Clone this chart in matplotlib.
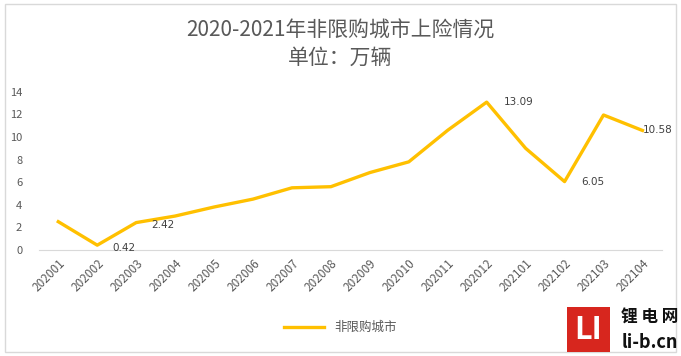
import numpy as np
import matplotlib.pyplot as plt
from matplotlib.patches import Rectangle

plt.rcParams['font.family'] = ['Noto Sans CJK SC', 'DejaVu Sans']

months = ['202001', '202002', '202003', '202004', '202005', '202006', '202007', '202008',
          '202009', '202010', '202011', '202012', '202101', '202102', '202103', '202104']
vals = [2.5, 0.42, 2.42, 3.0, 3.8, 4.5, 5.5, 5.6, 6.85, 7.8, 10.6, 13.09, 9.0, 6.05, 11.95, 10.58]
labeled = {1: '0.42', 2: '2.42', 11: '13.09', 13: '6.05', 15: '10.58'}
offsets = {1: (11, -2), 2: (11, -2), 11: (12, 0), 13: (12, 0), 15: (0, 0)}

fig = plt.figure(figsize=(6.81, 3.56), dpi=100)
ax = fig.add_axes([0.057, 0.298, 0.915, 0.444])
x = np.arange(len(months))
ax.plot(x, vals, color='#FFC000', lw=2.4, label='非限购城市')

for i, t in labeled.items():
    ax.annotate(t, (x[i], vals[i]), xytext=offsets[i], textcoords='offset points',
                fontsize=7.5, color='#404040', va='center', ha='left', family='DejaVu Sans')

ax.set_xlim(-0.5, 15.5)
ax.set_ylim(0, 14)
ax.set_yticks(range(0, 15, 2))
ax.set_xticks(x)
ax.set_xticklabels(months, rotation=45, ha='right', rotation_mode='anchor', fontsize=8.5, color='#595959')
ax.tick_params(axis='y', length=0, labelsize=8, labelcolor='#595959', pad=12)
ax.tick_params(axis='x', length=0, pad=5)
for s in ['top', 'right', 'left']:
    ax.spines[s].set_visible(False)
ax.spines['bottom'].set_color('#d9d9d9')

fig.text(0.5, 0.915, '2020-2021年非限购城市上险情况', ha='center', va='center', fontsize=15, color='#595959')
fig.text(0.5, 0.838, '单位：万辆', ha='center', va='center', fontsize=15, color='#595959')

fig.legend(loc='center', bbox_to_anchor=(0.5, 0.08), frameon=False, fontsize=9,
           labelcolor='#595959', handlelength=3.2)

# frame
fig.patches.append(Rectangle((0.007, 0.01), 0.985, 0.98, transform=fig.transFigure,
                             fill=False, edgecolor='#d9d9d9', lw=1))
# logo
fig.patches.append(Rectangle((567 / 681, 4 / 356), 43 / 681, 45 / 356, transform=fig.transFigure,
                             facecolor='#d7261e', edgecolor='none'))
fig.text(588 / 681, 26 / 356, 'LI', ha='center', va='center', fontsize=22, color='white', fontweight='bold')
fig.text(650 / 681, 38 / 356, '锂 电 网', ha='center', va='center', fontsize=12, color='#111111', fontweight='bold')
fig.text(650 / 681, 13 / 356, 'li-b.cn', ha='center', va='center', fontsize=13, color='#111111', fontweight='bold')

fig.savefig('out.png', dpi=100)
